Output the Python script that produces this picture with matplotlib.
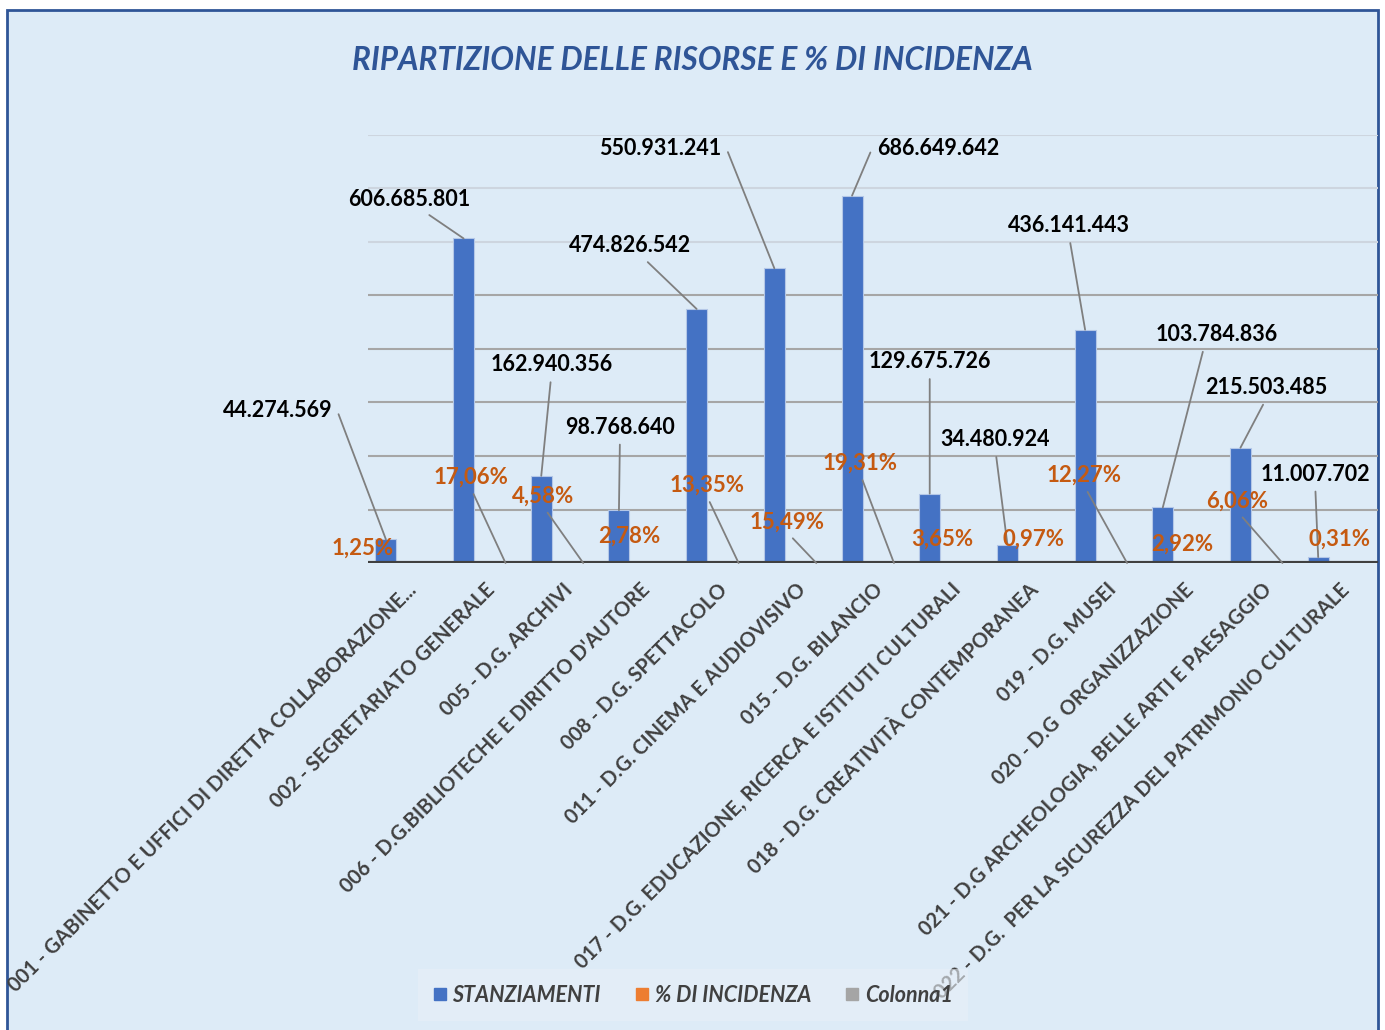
import matplotlib.pyplot as plt
from matplotlib.patches import Rectangle
from matplotlib.lines import Line2D

categorie = [
    "001 - GABINETTO E UFFICI DI DIRETTA COLLABORAZIONE...",
    "002 - SEGRETARIATO GENERALE",
    "005 - D.G. ARCHIVI",
    "006 - D.G.BIBLIOTECHE E DIRITTO D'AUTORE",
    "008 - D.G. SPETTACOLO",
    "011 - D.G. CINEMA E AUDIOVISIVO",
    "015 - D.G. BILANCIO",
    "017 - D.G. EDUCAZIONE, RICERCA E ISTITUTI CULTURALI",
    "018 - D.G. CREATIVITÀ CONTEMPORANEA",
    "019 - D.G. MUSEI",
    "020 - D.G  ORGANIZZAZIONE",
    "021 - D.G ARCHEOLOGIA, BELLE ARTI E PAESAGGIO",
    "022 - D.G.  PER LA SICUREZZA DEL PATRIMONIO CULTURALE",
]
stanziamenti = [44274569, 606685801, 162940356, 98768640, 474826542, 550931241,
                686649642, 129675726, 34480924, 436141443, 103784836, 215503485, 11007702]
incidenza = [1.25, 17.06, 4.58, 2.78, 13.35, 15.49, 19.31, 3.65, 0.97, 12.27, 2.92, 6.06, 0.31]
colonna1 = [0] * 13

# label offsets in pixels (x, y) from the bar tip, and where the leader leaves the text
off_val = [(-108, 129), (-54, 39), (10, 111), (1, 83), (-67, 63), (-114, 120), (86, 47),
           (0, 132), (-12, 105), (-16, 104), (54, 173), (26, 60), (-3, 83)]
rel_val = [(1.04, 0.5), (0.6, 0), (0.5, 0), (0.5, 0), (0.6, 0), (1.04, 0.5), (-0.04, 0.5),
           (0.5, 0), (0.5, 0), (0.5, 0), (0.4, 0), (0.5, 0), (0.5, 0)]
off_pct = [(-65, 15), (-35, 86), (-40, 67), (-32, 27), (-32, 78), (-29, 41), (-34, 100),
           (-29, 24), (-16, 24), (-43, 88), (-23, 19), (-45, 62), (-21, 24)]
leader_pct = [False, True, True, False, True, True, True, False, False, True, False, True, False]

BLUE = '#4472C4'
ORANGE = '#ED7D31'
GRAY = '#A5A5A5'
BG = '#DDEBF7'
FONT = 'Lato'

fig = plt.figure(figsize=(13.85, 10.30), dpi=100, facecolor='white')
fig.patches.append(Rectangle((7 / 1385, -0.02), 1371 / 1385, 1 - 10 / 1030 + 0.02,
                             transform=fig.transFigure, facecolor=BG,
                             edgecolor='#2F5597', linewidth=2, zorder=-5))

ax = fig.add_axes([368 / 1385, 1 - 563 / 1030, 1010 / 1385, 428 / 1030])
ax.patch.set_visible(False)
w = 0.27
x = list(range(len(categorie)))

ax.bar([i - w for i in x], stanziamenti, width=w, color=BLUE, edgecolor='#B4C7E7',
       linewidth=0.8, zorder=3)
ax.bar(x, [p / 100 for p in incidenza], width=w, color=ORANGE, zorder=3)
ax.bar([i + w for i in x], colonna1, width=w, color=GRAY, zorder=3)

ax.set_xlim(-0.5, len(categorie) - 0.5)
ax.set_ylim(0, 800e6)
for t in range(100_000_000, 800_000_001, 100_000_000):
    c = '#A6A6A6' if t <= 500e6 else '#CDD5DF'
    ax.axhline(t, color=c, lw=1.5, zorder=1)
ax.axhline(0, color='#404040', lw=3, zorder=4)
for s in ax.spines.values():
    s.set_visible(False)
ax.set_yticks([])
ax.set_xticks(x)
ax.set_xticklabels(categorie, rotation=45, ha='right', rotation_mode='anchor',
                   fontsize=14.5, fontweight='bold', color='#404040', family=FONT)
ax.tick_params(axis='x', length=0, pad=12)

for i, v in enumerate(stanziamenti):
    lab = f"{v:,}".replace(',', '.')
    ax.annotate(lab, xy=(i - w, v), xytext=off_val[i], textcoords='offset pixels',
                ha='center', va='center', fontsize=15.5, fontweight='bold',
                color='black', family=FONT, zorder=5,
                arrowprops=dict(arrowstyle='-', color='#7F7F7F', lw=1.3, shrinkA=3,
                                shrinkB=0, relpos=rel_val[i]))

for i, p in enumerate(incidenza):
    lab = f"{p:.2f}".replace('.', ',') + '%'
    ax.annotate(lab, xy=(i + w, 0), xytext=off_pct[i], textcoords='offset pixels',
                ha='center', va='center', fontsize=16, fontweight='bold',
                color='#C55A11', family=FONT, zorder=5,
                arrowprops=dict(arrowstyle='-', color='#7F7F7F', lw=1.3, shrinkA=3,
                                shrinkB=0, relpos=(0.5, 0)) if leader_pct[i] else None)

fig.text(692 / 1385, 1 - 61 / 1030, "RIPARTIZIONE DELLE RISORSE E % DI INCIDENZA",
         ha='center', va='center', fontsize=22.7, fontweight='bold', style='italic',
         color='#2F5597', family=FONT)

handles = [Line2D([], [], marker='s', ls='', color=c, markersize=9) for c in (BLUE, ORANGE, GRAY)]
leg = fig.legend(handles, ['STANZIAMENTI', '% DI INCIDENZA', 'Colonna1'],
                 loc='center', bbox_to_anchor=(693 / 1385, 1 - 995 / 1030), ncol=3,
                 frameon=True, facecolor='#E8EFF7', edgecolor='none', framealpha=0.6,
                 fancybox=False, handlelength=0.6, handletextpad=0.3, columnspacing=1.6,
                 borderpad=0.7,
                 prop=dict(family=FONT, weight='bold', style='italic', size=15.5))
for t in leg.get_texts():
    t.set_color('#404040')
leg.set_zorder(10)

fig.savefig('out.png', dpi=100, facecolor='white')
